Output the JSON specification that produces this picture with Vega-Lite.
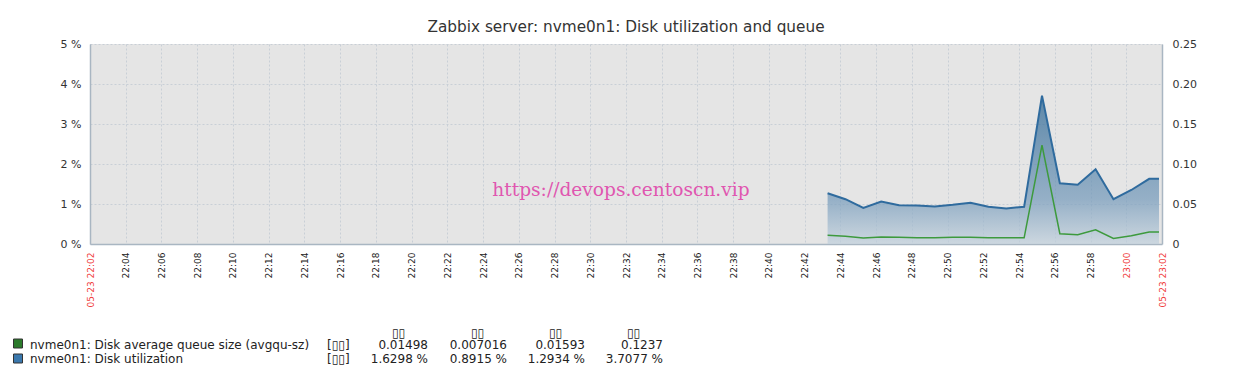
{
  "$schema": "https://vega.github.io/schema/vega-lite/v6.json",
  "width": 1072,
  "height": 200,
  "autosize": "none",
  "padding": {"left": 90, "top": 44, "right": 86, "bottom": 136},
  "background": "white",
  "title": {
    "text": "Zabbix server: nvme0n1: Disk utilization and queue",
    "font": "DejaVu Sans",
    "fontSize": 15.3,
    "fontWeight": "normal",
    "color": "#333333",
    "anchor": "middle",
    "offset": 3
  },
  "config": {
    "view": {"fill": "#e5e5e5", "stroke": null},
    "axis": {"labelFont": "DejaVu Sans", "labelColor": "#333333", "titleFont": "DejaVu Sans"}
  },
  "datasets": {
    "series": [
      {"t": "2024-05-23T22:43:17", "util": 1.27, "queue": 0.0108},
      {"t": "2024-05-23T22:44:17", "util": 1.12, "queue": 0.0097},
      {"t": "2024-05-23T22:45:17", "util": 0.90, "queue": 0.0076},
      {"t": "2024-05-23T22:46:17", "util": 1.06, "queue": 0.0086},
      {"t": "2024-05-23T22:47:17", "util": 0.97, "queue": 0.0085},
      {"t": "2024-05-23T22:48:17", "util": 0.96, "queue": 0.0079},
      {"t": "2024-05-23T22:49:17", "util": 0.94, "queue": 0.0078},
      {"t": "2024-05-23T22:50:17", "util": 0.98, "queue": 0.0084},
      {"t": "2024-05-23T22:51:17", "util": 1.03, "queue": 0.0085},
      {"t": "2024-05-23T22:52:17", "util": 0.93, "queue": 0.0079},
      {"t": "2024-05-23T22:53:17", "util": 0.89, "queue": 0.0077},
      {"t": "2024-05-23T22:54:17", "util": 0.93, "queue": 0.0077},
      {"t": "2024-05-23T22:55:17", "util": 3.71, "queue": 0.1237},
      {"t": "2024-05-23T22:56:17", "util": 1.52, "queue": 0.0128},
      {"t": "2024-05-23T22:57:17", "util": 1.48, "queue": 0.0115},
      {"t": "2024-05-23T22:58:17", "util": 1.87, "queue": 0.0178},
      {"t": "2024-05-23T22:59:17", "util": 1.12, "queue": 0.0070},
      {"t": "2024-05-23T23:00:17", "util": 1.35, "queue": 0.0102},
      {"t": "2024-05-23T23:01:17", "util": 1.63, "queue": 0.0150},
      {"t": "2024-05-23T23:01:50", "util": 1.63, "queue": 0.0150}
    ],
    "legend": [
      {"kind": "header", "row": 0, "col": 3, "text": "▯▯"},
      {"kind": "header", "row": 0, "col": 4, "text": "▯▯"},
      {"kind": "header", "row": 0, "col": 5, "text": "▯▯"},
      {"kind": "header", "row": 0, "col": 6, "text": "▯▯"},
      {"kind": "name", "row": 1, "col": 1, "text": "nvme0n1: Disk average queue size (avgqu-sz)"},
      {"kind": "name", "row": 1, "col": 2, "text": "[▯▯]"},
      {"kind": "value", "row": 1, "col": 3, "text": "0.01498"},
      {"kind": "value", "row": 1, "col": 4, "text": "0.007016"},
      {"kind": "value", "row": 1, "col": 5, "text": "0.01593"},
      {"kind": "value", "row": 1, "col": 6, "text": "0.1237"},
      {"kind": "name", "row": 2, "col": 1, "text": "nvme0n1: Disk utilization"},
      {"kind": "name", "row": 2, "col": 2, "text": "[▯▯]"},
      {"kind": "value", "row": 2, "col": 3, "text": "1.6298 %"},
      {"kind": "value", "row": 2, "col": 4, "text": "0.8915 %"},
      {"kind": "value", "row": 2, "col": 5, "text": "1.2934 %"},
      {"kind": "value", "row": 2, "col": 6, "text": "3.7077 %"},
      {"kind": "swatch", "row": 1, "col": 0, "series": "queue"},
      {"kind": "swatch", "row": 2, "col": 0, "series": "util"}
    ]
  },
  "layer": [
    {
      "data": {"name": "series"},
      "layer": [
        {
          "layer": [
            {
              "mark": {
                "type": "area",
                "color": {
                  "gradient": "linear",
                  "x1": 0, "y1": 1, "x2": 0, "y2": 0,
                  "stops": [
                    {"offset": 0, "color": "#c2d1dd"},
                    {"offset": 0.3, "color": "#7399ba"},
                    {"offset": 1, "color": "#23608f"}
                  ]
                },
                "line": {"color": "#2f6b9e", "strokeWidth": 2}
              },
              "encoding": {
                "x": {
                  "field": "t", "type": "temporal",
                  "scale": {"domain": [
                    {"year": 2024, "month": 5, "date": 23, "hours": 22, "minutes": 2},
                    {"year": 2024, "month": 5, "date": 23, "hours": 23, "minutes": 2}
                  ]},
                  "axis": {
                    "title": null,
                    "tickCount": 100,
                    "values": [
                      {"year": 2024, "month": 5, "date": 23, "hours": 22, "minutes": 2},
                      {"year": 2024, "month": 5, "date": 23, "hours": 22, "minutes": 4},
                      {"year": 2024, "month": 5, "date": 23, "hours": 22, "minutes": 6},
                      {"year": 2024, "month": 5, "date": 23, "hours": 22, "minutes": 8},
                      {"year": 2024, "month": 5, "date": 23, "hours": 22, "minutes": 10},
                      {"year": 2024, "month": 5, "date": 23, "hours": 22, "minutes": 12},
                      {"year": 2024, "month": 5, "date": 23, "hours": 22, "minutes": 14},
                      {"year": 2024, "month": 5, "date": 23, "hours": 22, "minutes": 16},
                      {"year": 2024, "month": 5, "date": 23, "hours": 22, "minutes": 18},
                      {"year": 2024, "month": 5, "date": 23, "hours": 22, "minutes": 20},
                      {"year": 2024, "month": 5, "date": 23, "hours": 22, "minutes": 22},
                      {"year": 2024, "month": 5, "date": 23, "hours": 22, "minutes": 24},
                      {"year": 2024, "month": 5, "date": 23, "hours": 22, "minutes": 26},
                      {"year": 2024, "month": 5, "date": 23, "hours": 22, "minutes": 28},
                      {"year": 2024, "month": 5, "date": 23, "hours": 22, "minutes": 30},
                      {"year": 2024, "month": 5, "date": 23, "hours": 22, "minutes": 32},
                      {"year": 2024, "month": 5, "date": 23, "hours": 22, "minutes": 34},
                      {"year": 2024, "month": 5, "date": 23, "hours": 22, "minutes": 36},
                      {"year": 2024, "month": 5, "date": 23, "hours": 22, "minutes": 38},
                      {"year": 2024, "month": 5, "date": 23, "hours": 22, "minutes": 40},
                      {"year": 2024, "month": 5, "date": 23, "hours": 22, "minutes": 42},
                      {"year": 2024, "month": 5, "date": 23, "hours": 22, "minutes": 44},
                      {"year": 2024, "month": 5, "date": 23, "hours": 22, "minutes": 46},
                      {"year": 2024, "month": 5, "date": 23, "hours": 22, "minutes": 48},
                      {"year": 2024, "month": 5, "date": 23, "hours": 22, "minutes": 50},
                      {"year": 2024, "month": 5, "date": 23, "hours": 22, "minutes": 52},
                      {"year": 2024, "month": 5, "date": 23, "hours": 22, "minutes": 54},
                      {"year": 2024, "month": 5, "date": 23, "hours": 22, "minutes": 56},
                      {"year": 2024, "month": 5, "date": 23, "hours": 22, "minutes": 58},
                      {"year": 2024, "month": 5, "date": 23, "hours": 23, "minutes": 0},
                      {"year": 2024, "month": 5, "date": 23, "hours": 23, "minutes": 2}
                    ],
                    "labelAngle": -90,
                    "labelFontSize": 9,
                    "labelPadding": 8,
                    "labelOverlap": false,
                    "labelFlush": false,
                    "ticks": false,
                    "domainColor": "#a9b6c2",
                    "domainWidth": 1.5,
                    "grid": true,
                    "gridColor": "#c8cfd6",
                    "gridDash": [2, 2],
                    "labelExpr": "minutes(datum.value) == 2 && (hours(datum.value) == 22 || hours(datum.value) == 23) ? timeFormat(datum.value, '%m-%d %H:%M') : timeFormat(datum.value, '%H:%M')",
                    "labelColor": {
                      "condition": {"test": "(minutes(datum.value) == 2 && (hours(datum.value) == 22 || hours(datum.value) == 23)) || (hours(datum.value) == 23 && minutes(datum.value) == 0)", "value": "#f03c3c"},
                      "value": "#222222"
                    }
                  }
                },
                "y": {
                  "field": "util", "type": "quantitative",
                  "scale": {"domain": [0, 5], "nice": false},
                  "axis": {
                    "title": null,
                    "tickCount": 100,
                    "values": [0, 1, 2, 3, 4, 5],
                    "labelExpr": "datum.value + ' %'",
                    "labelFontSize": 11,
                    "labelPadding": 9,
                    "labelOverlap": false,
                    "ticks": false,
                    "domainColor": "#a9b6c2",
                    "domainWidth": 1.5,
                    "grid": true,
                    "gridColor": "#c8cfd6",
                    "gridDash": [2, 2]
                  }
                }
              }
            },
            {
              "data": {"values": [{}]},
              "mark": {
                "type": "text",
                "text": "https://devops.centoscn.vip",
                "font": "DejaVu Serif",
                "fontSize": 18.6,
                "color": "#e056b0",
                "align": "center",
                "baseline": "alphabetic"
              },
              "encoding": {
                "x": {"datum": {"year": 2024, "month": 5, "date": 23, "hours": 22, "minutes": 31, "seconds": 43}, "type": "temporal"},
                "y": {"datum": 1.2, "type": "quantitative"}
              }
            }
          ]
        },
        {
          "mark": {"type": "line", "color": "#3d9a3d", "strokeWidth": 1.5},
          "encoding": {
            "x": {"field": "t", "type": "temporal"},
            "y": {
              "field": "queue", "type": "quantitative",
              "scale": {"domain": [0, 0.25], "nice": false},
              "axis": {
                "orient": "right",
                "title": null,
                "tickCount": 100,
                "values": [0, 0.05, 0.1, 0.15, 0.2, 0.25],
                "labelExpr": "datum.value == 0 ? '0' : format(datum.value, '.2f')",
                "labelFontSize": 11,
                "labelPadding": 10,
                "labelOverlap": false,
                "ticks": false,
                "domainColor": "#a9b6c2",
                "domainWidth": 1.5,
                "grid": false
              }
            }
          }
        }
      ],
      "resolve": {"scale": {"y": "independent"}}
    },
    {
      "data": {"name": "legend"},
      "layer": [
        {
          "layer": [
            {
              "transform": [{"filter": "datum.kind == 'name'"}],
              "mark": {"type": "text", "align": "left", "baseline": "alphabetic", "font": "DejaVu Sans", "fontSize": 12, "color": "#222222"},
              "encoding": {
                "x": {"field": "col", "type": "quantitative", "axis": null,
                      "scale": {"domain": [0, 1, 2, 3, 4, 5, 6], "range": [-72, -60, 237, 338, 417, 495, 573], "zero": false, "nice": false}},
                "y": {"field": "row", "type": "quantitative", "axis": null,
                      "scale": {"domain": [0, 1, 2], "range": [292.5, 304.5, 318.5], "zero": false, "nice": false}},
                "text": {"field": "text"}
              }
            },
            {
              "transform": [{"filter": "datum.kind == 'value'"}],
              "mark": {"type": "text", "align": "right", "baseline": "alphabetic", "font": "DejaVu Sans", "fontSize": 12, "color": "#222222"},
              "encoding": {
                "x": {"field": "col", "type": "quantitative", "axis": null},
                "y": {"field": "row", "type": "quantitative", "axis": null},
                "text": {"field": "text"}
              }
            },
            {
              "transform": [{"filter": "datum.kind == 'header'"}],
              "mark": {"type": "text", "align": "center", "baseline": "alphabetic", "dx": -29.5, "font": "DejaVu Sans", "fontSize": 12, "color": "#222222"},
              "encoding": {
                "x": {"field": "col", "type": "quantitative", "axis": null},
                "y": {"field": "row", "type": "quantitative", "axis": null},
                "text": {"field": "text"}
              }
            }
          ]
        },
        {
          "transform": [{"filter": "datum.kind == 'swatch'"}],
          "mark": {"type": "square", "size": 81, "opacity": 1, "filled": true, "stroke": "#333333", "strokeWidth": 1},
          "encoding": {
            "x": {"field": "col", "type": "quantitative", "axis": null},
            "y": {"field": "row", "type": "quantitative", "axis": null,
                  "scale": {"domain": [1, 2], "range": [299.5, 314.5], "zero": false, "nice": false}},
            "color": {"field": "series", "type": "nominal", "legend": null,
                      "scale": {"domain": ["queue", "util"], "range": ["#2b7a2b", "#3a78ad"]}}
          }
        }
      ],
      "resolve": {"scale": {"y": "independent"}}
    }
  ],
  "resolve": {"scale": {"x": "independent", "y": "independent"}}
}
